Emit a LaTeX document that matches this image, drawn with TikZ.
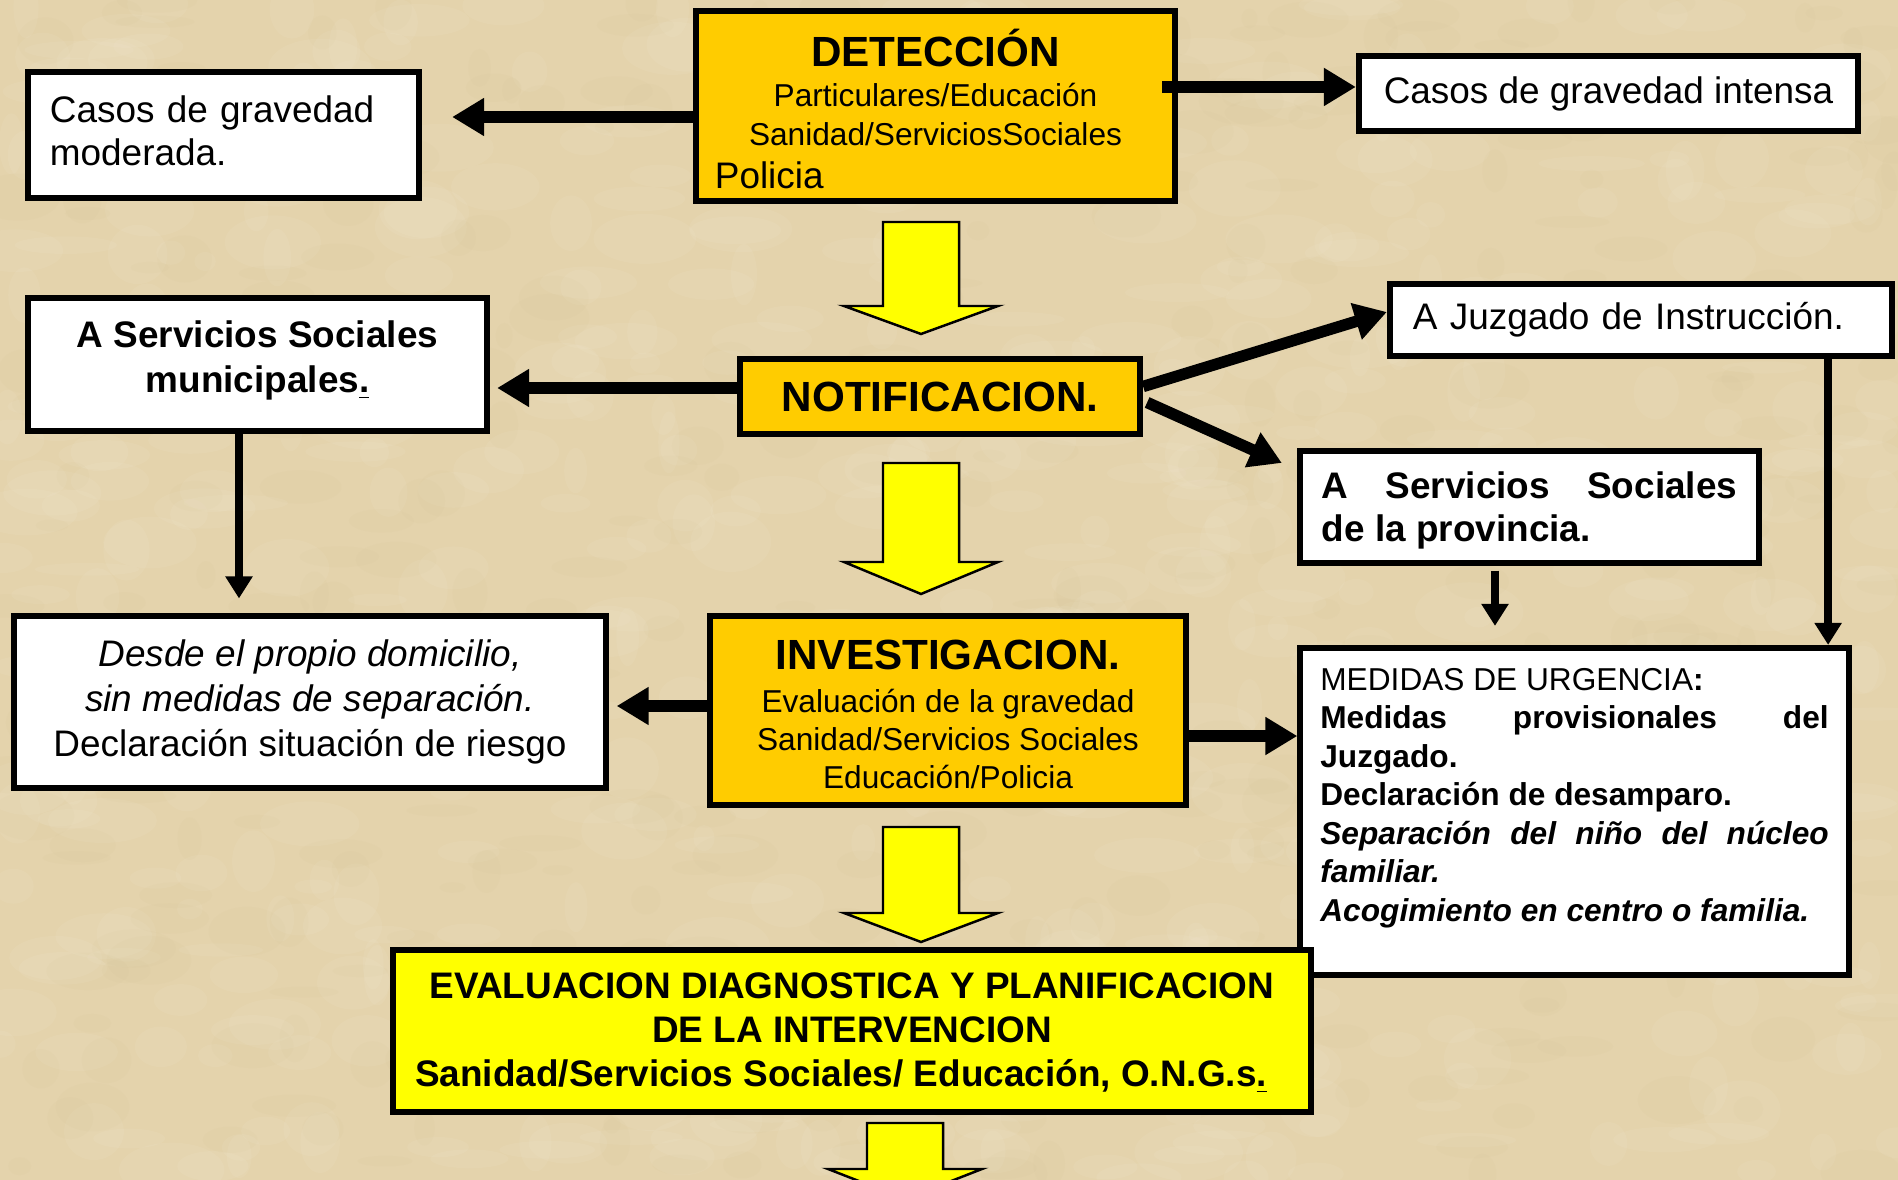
\documentclass[tikz,border=0pt]{standalone}
\usepackage{fontspec}
\setmainfont{Liberation Sans}
\usetikzlibrary{arrows.meta, calc}

\definecolor{parchment}{RGB}{228,211,172}
\definecolor{stain}{RGB}{200,178,130}
\definecolor{gold}{RGB}{255,204,0}
\definecolor{lemon}{RGB}{255,255,0}
\newcommand{\sz}[2]{\fontsize{#1}{#2}\selectfont}

\begin{document}
\begin{tikzpicture}[x=0.01cm, y=-0.01cm]
    \tikzset{
        box/.style={draw, fill=white, line width=0.06cm, inner sep=0.1cm},
        golden/.style={box, fill=gold},
        bigarrow/.style={line width=0.115cm, -{Triangle[length=0.32cm, width=0.36cm]}},
        thinarrow/.style={line width=0.08cm, -{Triangle[length=0.22cm, width=0.26cm]}},
        blockarrow/.style={draw, fill=lemon, line width=0.7pt, line join=miter}
    };
    \useasboundingbox (0,0) rectangle (1898,1180);
    \fill[parchment] (0,0) rectangle (1898,1180);
    % mottled paper
    \pgfmathsetseed{42}
    \begin{scope}
        \clip (0,0) rectangle (1898,1180);
        \foreach \i in {1,...,600}
            \fill[white, opacity=0.05] ({rnd*1898},{rnd*1180}) ellipse ({10+rnd*45} and {6+rnd*25});
        \foreach \i in {1,...,400}
            \fill[stain, opacity=0.05] ({rnd*1898},{rnd*1180}) ellipse ({8+rnd*35} and {5+rnd*20});
    \end{scope}

    % boxes
    \node[golden, minimum width=4.79cm, minimum height=1.90cm, text width=4.41cm, align=center, font=\sz{9}{11.1}] (det) at (935.5,106)
        {{\sz{12}{14}\bfseries\rule{0pt}{12.4pt}DETECCIÓN}\\[0.3pt]
         Particulares/Educación\\
         Sanidad/ServiciosSociales\\[1.1pt]
         {\sz{10.5}{12}\makebox[4.41cm][l]{Policia}}};
    \node[box, minimum width=3.91cm, minimum height=1.26cm, text width=3.47cm, align=left, font=\sz{10.5}{12.2}] (mod) at (223.5,135)
        {Casos de gravedad\\moderada.\rule[-2.4pt]{0pt}{0pt}};
    \node[box, minimum width=4.99cm, minimum height=0.75cm, font=\sz{10.5}{12.6}] (int) at (1608.5,93.5)
        {Casos de gravedad intensa};
    \node[golden, minimum width=4.00cm, minimum height=0.75cm, font=\bfseries\sz{12}{14}] (notif) at (940,396.5)
        {NOTIFICACION.};
    \node[box, minimum width=4.59cm, minimum height=1.33cm, align=center, font=\bfseries\sz{10.5}{12.8}] (mun) at (257.5,364.5)
        {A Servicios Sociales\\municipales\underline{.}\rule[-4.4pt]{0pt}{0pt}};
    \node[box, minimum width=5.02cm, minimum height=0.72cm, text width=4.56cm, align=left, font=\sz{10.5}{12.6}] (juz) at (1641,320)
        {A Juzgado de Instrucción.};
    \node[box, minimum width=4.59cm, minimum height=1.12cm, text width=4.15cm, align=justify, font=\bfseries\sz{10.5}{12.2}] (pro) at (1529.5,507)
        {\makebox[4.15cm][s]{\rule{0pt}{9.7pt}A Servicios Sociales}\\de la provincia.};
    \node[box, minimum width=5.91cm, minimum height=1.72cm, align=center, font=\sz{10.5}{12.7}] (des) at (310,702)
        {\textit{Desde el propio domicilio,}\\
         \textit{sin medidas de separación.}\\
         Declaración situación de riesgo};
    \node[golden, minimum width=4.76cm, minimum height=1.89cm, align=center, font=\sz{9}{10.8}] (inv) at (948,710.5)
        {{\sz{12}{14}\bfseries\rule{0pt}{10.6pt}INVESTIGACION.}\\[1.4pt]
         Evaluación de la gravedad\\
         Sanidad/Servicios Sociales\\
         Educación/Policia};
    \node[box, inner xsep=0.2cm, inner ysep=0.18cm] (med) at (1574.5,811.5)
        {\begin{minipage}[c][2.91cm][t]{5.08cm}\sz{9}{10.95}%
         \vspace*{0.02cm}%
         MEDIDAS DE URGENCIA\textbf{:}\\
         \textbf{\makebox[5.08cm][s]{Medidas provisionales del}}\\
         \textbf{Juzgado.}\\
         \textbf{Declaración de desamparo.}\\
         \textbf{\textit{\makebox[5.08cm][s]{Separación del niño del núcleo}}}\\
         \textbf{\textit{familiar.}}\\
         \textbf{\textit{Acogimiento en centro o familia.}}
         \end{minipage}};
    \node[box, fill=lemon, minimum width=9.18cm, minimum height=1.62cm, align=center, font=\bfseries\sz{10.5}{12.5}] (eva) at (852,1031)
        {\rule{0pt}{8.6pt}EVALUACION DIAGNOSTICA Y PLANIFICACION\\
         DE LA INTERVENCION\\
         Sanidad/Servicios Sociales/ Educación, O.N.G.s\underline{.}\kern0.22cm};

    % yellow block arrows down the middle
    \foreach \cx/\ytop/\ybase/\ytip in {921/222/306/334, 921/463/562/594, 921/827/913/942, 905/1123/1169/1199}
        \draw[blockarrow] (\cx-38,\ytop) -- (\cx+38,\ytop) -- (\cx+38,\ybase) -- (\cx+77,\ybase)
            -- (\cx,\ytip) -- (\cx-77,\ybase) -- (\cx-38,\ybase) -- cycle;

    % black arrows
    \draw[bigarrow, shorten >=0.30cm] ([yshift=-0.11cm]det.west) -- ([yshift=-0.11cm]det.west -| mod.east);
    \draw[bigarrow] ([xshift=-0.16cm, yshift=0.19cm]det.east) -- ([yshift=0.19cm]det.east -| int.west);
    \draw[bigarrow, shorten >=0.07cm] ([yshift=0.085cm]notif.west) -- ([yshift=0.085cm]notif.west -| mun.east);
    \draw[bigarrow] ([yshift=0.1cm]notif.east) -- ([yshift=0.08cm]juz.west);
    \draw[bigarrow] ([xshift=0.04cm, yshift=-0.06cm]notif.east) -- ([xshift=-0.15cm, yshift=-0.15cm]pro.north west);
    \draw[bigarrow, shorten >=0.08cm] ([yshift=0.045cm]inv.west) -- ([yshift=0.045cm]inv.west -| des.east);
    \draw[bigarrow] ([yshift=-0.255cm]inv.east) -- ([yshift=-0.255cm]inv.east -| med.west);
    \draw[thinarrow, shorten >=0.145cm] ([xshift=-0.185cm]mun.south) -- ([xshift=-0.185cm]mun.south |- des.north);
    \draw[thinarrow, shorten <=0.045cm, shorten >=0.19cm] ([xshift=-0.345cm]pro.south) -- ([xshift=-0.345cm]pro.south |- med.north);
    \draw[thinarrow] ([xshift=1.87cm]juz.south) -- ([xshift=1.87cm]juz.south |- med.north);
\end{tikzpicture}
\end{document}
